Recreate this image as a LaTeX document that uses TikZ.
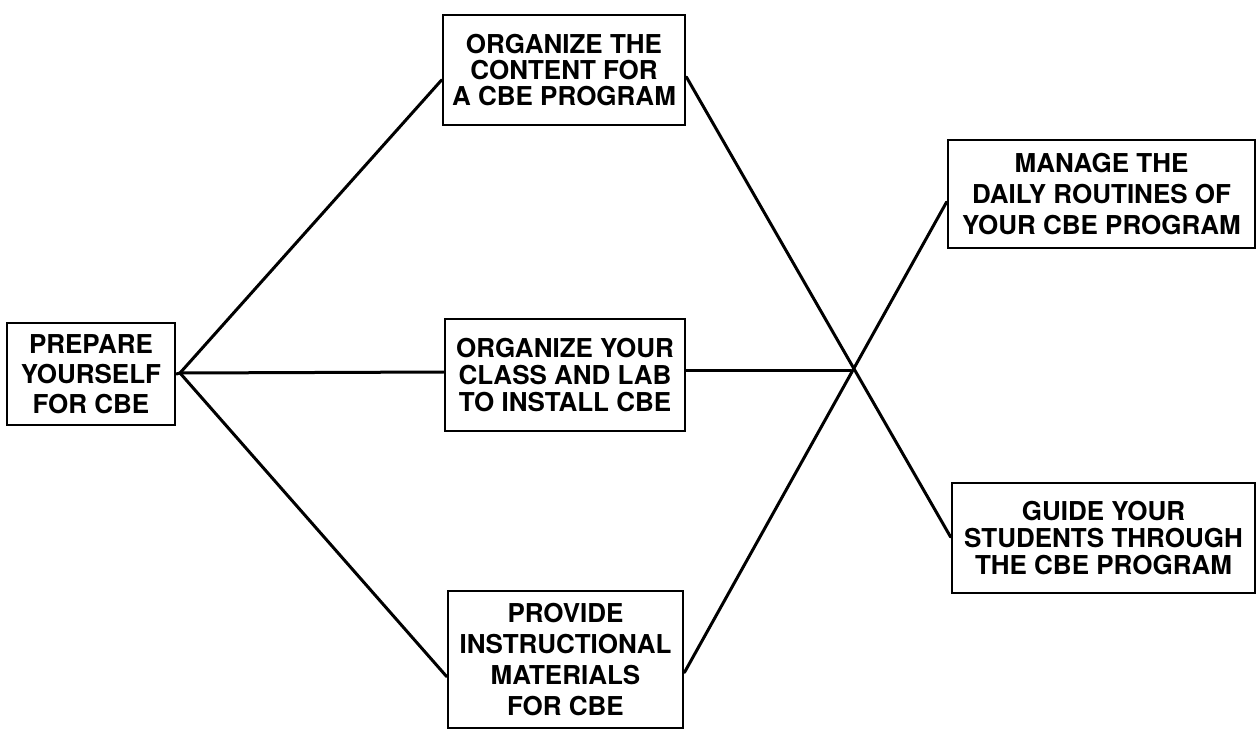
\documentclass[tikz,border=0pt]{standalone}
\usepackage{fontspec}
\setmainfont{TeX Gyre Heros}
\begin{document}
\begin{tikzpicture}[x=1pt,y=-1pt,
  box/.style={draw,line width=2.8pt,inner sep=0pt,align=center},
  txt/.style={font=\fontsize{26}{#1}\selectfont\bfseries},
  link/.style={line width=3pt,line cap=round}]
\useasboundingbox (0,0) rectangle (1260,732);
\node[box,txt=30,minimum width=168pt,minimum height=102pt] (b1) at (91,374) {PREPARE\\YOURSELF\\FOR CBE};
\node[box,txt=26,minimum width=242pt,minimum height=110pt] (b2) at (564,70) {ORGANIZE THE\\CONTENT FOR\\A CBE PROGRAM};
\node[box,txt=27,minimum width=240pt,minimum height=112pt] (b3) at (565,375) {ORGANIZE YOUR\\CLASS AND LAB\\TO INSTALL CBE};
\node[box,txt=31,minimum width=235pt,minimum height=137pt] (b4) at (565.5,659.5) {PROVIDE\\INSTRUCTIONAL\\MATERIALS\\FOR CBE};
\node[box,txt=31,minimum width=307pt,minimum height=108pt] (b5) at (1101.5,194) {MANAGE THE\\DAILY ROUTINES OF\\YOUR CBE PROGRAM};
\node[box,txt=27,minimum width=303pt,minimum height=110pt] (b6) at (1103.5,538) {GUIDE YOUR\\STUDENTS THROUGH\\THE CBE PROGRAM};
\coordinate (fork) at (180,373);
\coordinate (hub) at (851,370);
\draw[link] (b1.east) -- (fork);
\draw[link] (fork) -- ([yshift=-10pt]b2.west);
\draw[link] (fork) -- ([yshift=3pt]b3.west);
\draw[link] (fork) -- ([yshift=-17pt]b4.west);
\draw[link] ([yshift=-7pt]b2.east) -- ([yshift=1pt]b6.west);
\draw[link] ([yshift=-13pt]b4.east) -- ([yshift=-8pt]b5.west);
\draw[link] ([yshift=5pt]b3.east) -- (hub);
\end{tikzpicture}
\end{document}
